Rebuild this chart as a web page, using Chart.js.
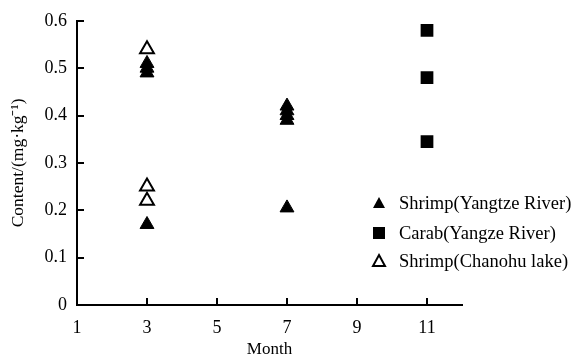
<!DOCTYPE html>
<html>
<head>
<meta charset="utf-8">
<script src="https://cdn.jsdelivr.net/npm/chart.js"></script>
<style>
  html, body { margin: 0; padding: 0; background: #ffffff; }
  #wrap { width: 575px; height: 361px; position: relative; }
</style>
</head>
<body>
<div id="wrap"><canvas id="c" width="575" height="361"></canvas></div>
<script>
// ---- Data ----
const seriesNames = ["Shrimp(Yangtze River)", "Carab(Yangze River)", "Shrimp(Chanohu lake)"];

const shrimpYangtzeMonth = [3, 3, 3, 3, 7, 7, 7, 7, 7];
const shrimpYangtzeValue = [0.49, 0.50, 0.51, 0.17, 0.39, 0.40, 0.41, 0.42, 0.205];

const carabYangzeMonth = [11, 11, 11];
const carabYangzeValue = [0.58, 0.48, 0.345];

const shrimpChaohuMonth = [3, 3, 3];
const shrimpChaohuValue = [0.54, 0.25, 0.22];

const xTickValues = [1, 3, 5, 7, 9, 11];
const yTickValues = [0, 0.1, 0.2, 0.3, 0.4, 0.5, 0.6];
const xAxisTitle = "Month";
const yAxisTitle = "Content/(mg\u00B7kg\u207B\u00B9)";

const toPoints = (xs, ys) => xs.map((x, i) => ({ x: x, y: ys[i] }));

const FONT = "'Liberation Serif', 'Times New Roman', serif";

// inward tick marks drawn through the scales
const inwardTicks = {
  id: 'inwardTicks',
  afterDatasetsDraw(chart) {
    const ctx = chart.ctx;
    const xs = chart.scales.x, ys = chart.scales.y;
    const len = 7;
    ctx.save();
    ctx.strokeStyle = '#000';
    ctx.lineWidth = 2;
    xs.ticks.forEach(t => {
      const px = Math.round(xs.getPixelForValue(t.value));
      if (Math.abs(px - xs.left) < 2) return;
      ctx.beginPath();
      ctx.moveTo(px, ys.bottom);
      ctx.lineTo(px, ys.bottom - len);
      ctx.stroke();
    });
    ys.ticks.forEach(t => {
      const py = Math.round(ys.getPixelForValue(t.value));
      if (Math.abs(py - ys.bottom) < 2) return;
      ctx.beginPath();
      ctx.moveTo(xs.left, py);
      ctx.lineTo(xs.left + len, py);
      ctx.stroke();
    });
    ctx.restore();
  }
};

// legend drawn inside the plot area (lower right)
const innerLegend = {
  id: 'innerLegend',
  afterDraw(chart) {
    const ctx = chart.ctx;
    const xMarker = 379, xText = 399;
    const rows = [203, 233, 261];
    ctx.save();
    ctx.font = "18.5px " + FONT;
    ctx.textBaseline = 'middle';
    ctx.fillStyle = '#000';
    chart.data.datasets.forEach((ds, i) => {
      const y = rows[i];
      ctx.strokeStyle = '#000';
      ctx.lineWidth = 2;
      if (ds.pointStyle === 'triangle') {
        ctx.beginPath();
        ctx.moveTo(xMarker, y - 6);
        ctx.lineTo(xMarker + 6, y + 5);
        ctx.lineTo(xMarker - 6, y + 5);
        ctx.closePath();
        if (ds.pointBackgroundColor === '#ffffff') {
          ctx.fillStyle = '#fff';
          ctx.fill();
          ctx.stroke();
        } else {
          ctx.fillStyle = '#000';
          ctx.fill();
        }
      } else {
        ctx.fillStyle = '#000';
        ctx.fillRect(xMarker - 6, y - 6, 12, 12);
      }
      ctx.fillStyle = '#000';
      ctx.textAlign = 'left';
      ctx.fillText(ds.label, xText, y + 1);
    });
    ctx.restore();
  }
};

new Chart(document.getElementById('c'), {
  type: 'scatter',
  data: {
    datasets: [
      {
        label: seriesNames[0],
        data: toPoints(shrimpYangtzeMonth, shrimpYangtzeValue),
        pointStyle: 'triangle',
        pointRadius: 8,
        pointBackgroundColor: '#000000',
        pointBorderColor: '#000000',
        pointBorderWidth: 1
      },
      {
        label: seriesNames[1],
        data: toPoints(carabYangzeMonth, carabYangzeValue),
        pointStyle: 'rect',
        pointRadius: 9,
        pointBackgroundColor: '#000000',
        pointBorderColor: '#000000',
        pointBorderWidth: 0
      },
      {
        label: seriesNames[2],
        data: toPoints(shrimpChaohuMonth, shrimpChaohuValue),
        pointStyle: 'triangle',
        pointRadius: 8,
        pointBackgroundColor: '#ffffff',
        pointBorderColor: '#000000',
        pointBorderWidth: 2
      }
    ]
  },
  options: {
    responsive: false,
    animation: false,
    devicePixelRatio: 1,
    layout: { padding: { top: 17, right: 113, left: 0, bottom: 0 } },
    plugins: {
      legend: { display: false },
      tooltip: { enabled: false }
    },
    scales: {
      x: {
        type: 'linear',
        min: 1,
        max: 12,
        afterBuildTicks: s => { s.ticks = xTickValues.map(v => ({ value: v })); },
        afterFit: s => { s.height = 56; },
        grid: { display: false, drawTicks: false },
        border: { display: true, color: '#000', width: 2 },
        ticks: {
          color: '#000',
          padding: 12,
          autoSkip: false,
          maxRotation: 0,
          font: { family: FONT, size: 18 },
          callback: v => String(v)
        },
        title: {
          display: true,
          text: xAxisTitle,
          color: '#000',
          font: { family: FONT, size: 17 },
          padding: { top: 0, bottom: 1 }
        }
      },
      y: {
        type: 'linear',
        min: 0,
        max: 0.6,
        afterBuildTicks: s => { s.ticks = yTickValues.map(v => ({ value: v })); },
        afterFit: s => { s.width = 77; },
        grid: { display: false, drawTicks: false },
        border: { display: true, color: '#000', width: 2 },
        ticks: {
          color: '#000',
          padding: 10,
          autoSkip: false,
          font: { family: FONT, size: 18 },
          callback: v => String(Math.round(v * 10) / 10)
        },
        title: {
          display: true,
          text: yAxisTitle,
          color: '#000',
          font: { family: FONT, size: 17.5 },
          padding: { top: 8, bottom: 0 }
        }
      }
    }
  },
  plugins: [inwardTicks, innerLegend]
});
</script>
</body>
</html>
